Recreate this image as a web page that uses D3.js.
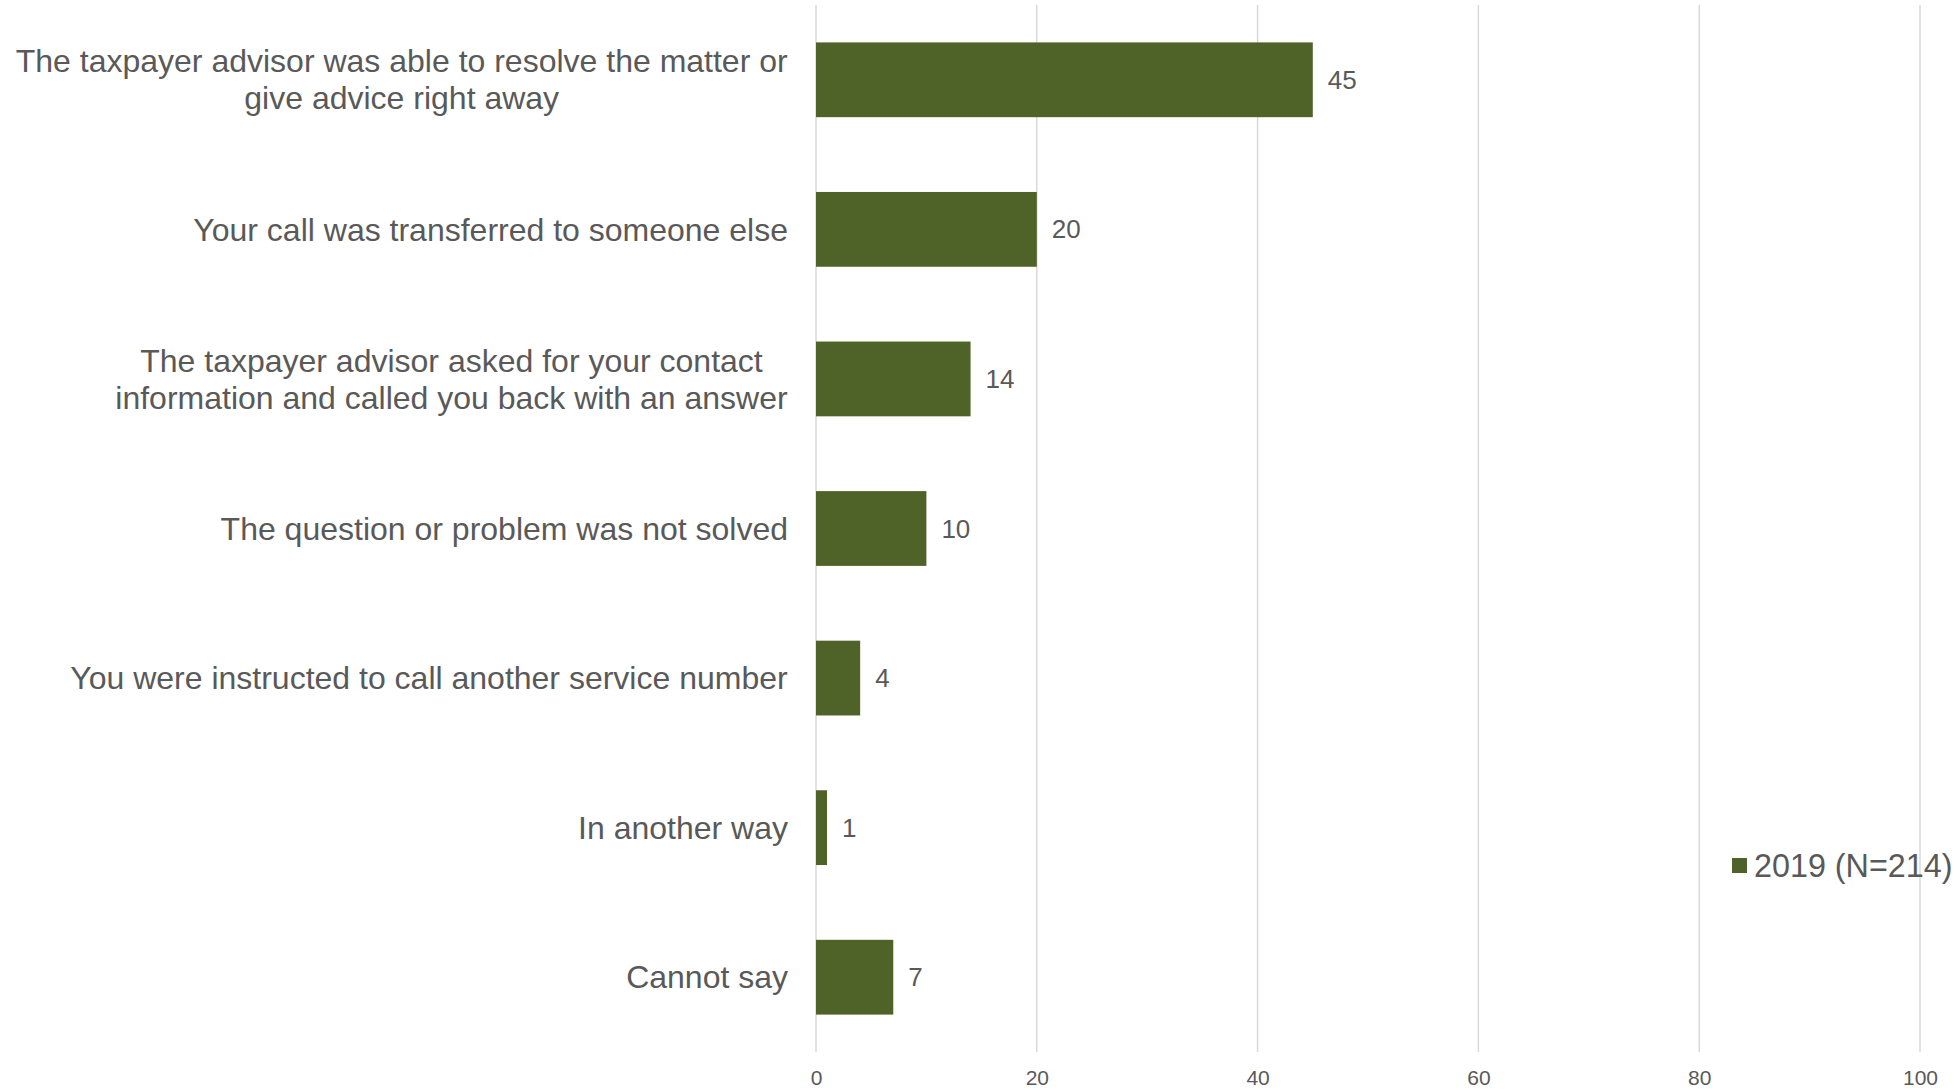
<!DOCTYPE html>
<html>
<head>
<meta charset="utf-8">
<script src="https://cdn.jsdelivr.net/npm/d3@7/dist/d3.min.js"></script>
<style>
  html, body { margin: 0; padding: 0; background: #ffffff; }
  svg { display: block; font-family: "Liberation Sans", Arial, sans-serif; }
</style>
</head>
<body>
<svg id="chart" width="1957" height="1090"></svg>
<script>
// How the taxpayer's call was handled (%)
const categories = [
  ["The taxpayer advisor was able to resolve the matter or", "give advice right away"],
  ["Your call was transferred to someone else"],
  ["The taxpayer advisor asked for your contact", "information and called you back with an answer"],
  ["The question or problem was not solved"],
  ["You were instructed to call another service number"],
  ["In another way"],
  ["Cannot say"]
];
const values2019 = [45, 20, 14, 10, 4, 1, 7];
const xTicks = [0, 20, 40, 60, 80, 100];
const seriesName = "2019 (N=214)";

const textColor = "#595959";
const barColor = "#4F6228";
const gridColor = "#D9D9D9";

const svg = d3.select("#chart");
const plot = { left: 816, right: 1920, top: 5, bottom: 1052 };

const x = d3.scaleLinear().domain([0, 100]).range([plot.left, plot.right]);
const y = d3.scaleBand()
  .domain(d3.range(categories.length))
  .range([plot.top, plot.bottom])
  .paddingInner(0.5)
  .paddingOuter(0.25);

// vertical gridlines
svg.append("g")
  .selectAll("line")
  .data(xTicks)
  .join("line")
  .attr("x1", d => x(d)).attr("x2", d => x(d))
  .attr("y1", plot.top).attr("y2", plot.bottom)
  .attr("stroke", gridColor).attr("stroke-width", 1.5);

// x axis tick labels
const xAxis = d3.axisBottom(x).tickValues(xTicks).tickSize(0).tickPadding(0);
const gx = svg.append("g")
  .attr("transform", `translate(0,${plot.bottom + 18})`)
  .call(xAxis);
gx.select(".domain").remove();
gx.selectAll("text")
  .attr("font-size", 21)
  .attr("fill", textColor)
  .attr("font-family", "Liberation Sans, Arial, sans-serif");

// bars
svg.append("g")
  .selectAll("rect")
  .data(values2019)
  .join("rect")
  .attr("x", x(0))
  .attr("y", (d, i) => y(i))
  .attr("width", d => x(d) - x(0))
  .attr("height", y.bandwidth())
  .attr("fill", barColor);

// value labels
svg.append("g")
  .selectAll("text")
  .data(values2019)
  .join("text")
  .attr("x", d => x(d) + 15)
  .attr("y", (d, i) => y(i) + y.bandwidth() / 2)
  .attr("dy", "0.35em")
  .attr("font-size", 26)
  .attr("fill", textColor)
  .text(d => d3.format("d")(d));

// category labels
const lineH = 37;
const cat = svg.append("g")
  .selectAll("text")
  .data(categories)
  .join("text")
  .attr("text-anchor", "middle")
  .attr("font-size", 32)
  .attr("fill", textColor);
cat.each(function(lines, i) {
  const t = d3.select(this);
  const cy = y(i) + y.bandwidth() / 2;
  lines.forEach((l, k) => {
    t.append("tspan")
      .attr("x", 0)
      .attr("y", cy + (k - (lines.length - 1) / 2) * lineH)
      .attr("dy", "0.35em")
      .text(l);
  });
});
// right-align each label block while keeping multi-line text centred
cat.each(function() {
  const bb = this.getBBox();
  const shift = 788 - (bb.x + bb.width);
  d3.select(this).attr("transform", `translate(${shift},0)`);
});

// legend
const legend = svg.append("g").attr("transform", "translate(1732,866)");
legend.append("rect")
  .attr("x", 0).attr("y", -8)
  .attr("width", 15).attr("height", 15)
  .attr("fill", barColor);
legend.append("text")
  .attr("x", 22).attr("y", 0)
  .attr("dy", "0.35em")
  .attr("font-size", 32.3)
  .attr("fill", textColor)
  .text(seriesName);
</script>
</body>
</html>
